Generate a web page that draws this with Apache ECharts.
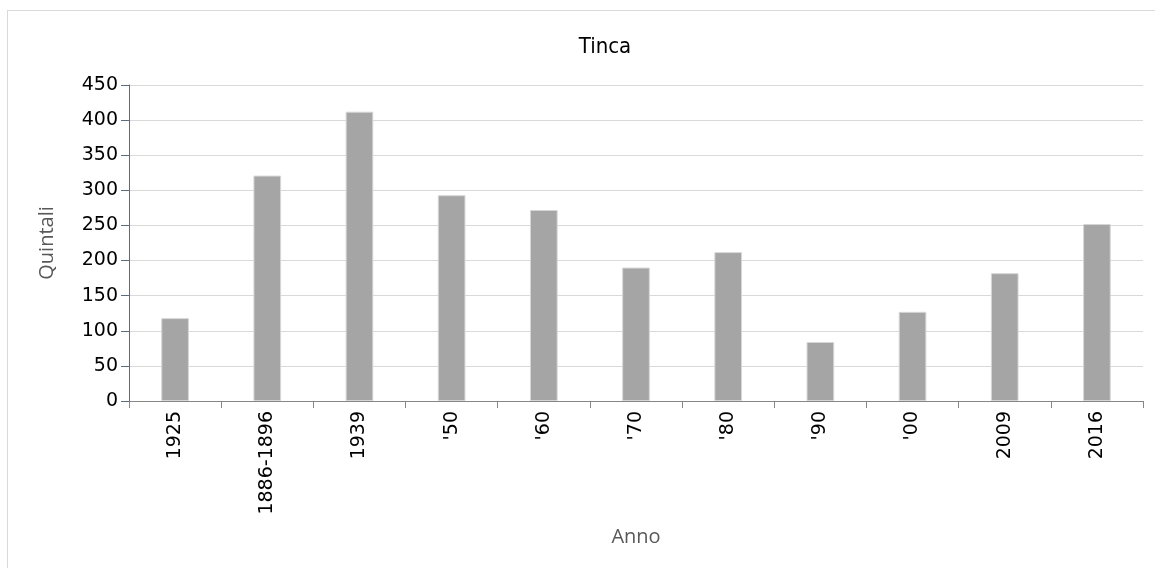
<!DOCTYPE html>
<html>
<head>
<meta charset="utf-8">
<script src="https://cdn.jsdelivr.net/npm/echarts@6/dist/echarts.min.js"></script>
<style>
  html, body { margin: 0; padding: 0; background: #fff; }
  #frame { position: absolute; left: 7px; top: 10px; width: 1160px; height: 570px; border: 1px solid #d9d9d9; box-sizing: border-box; }
  #chart { position: absolute; left: 0; top: 0; width: 1155px; height: 568px; }
</style>
</head>
<body>
<div id="frame"></div>
<div id="chart"></div>
<script>
// Catch of tench per period (quintals)
const categories = ['1925', '1886-1896', '1939', "'50", "'60", "'70", "'80", "'90", "'00", '2009', '2016'];
const catchValues = [118, 321, 412, 293, 272, 190, 212, 84, 127, 182, 252];
const yTicks = [0, 50, 100, 150, 200, 250, 300, 350, 400, 450];

const chart = echarts.init(document.getElementById('chart'), null, { renderer: 'canvas' });
chart.setOption({
  backgroundColor: 'transparent',
  animation: false,
  title: {
    text: 'Tinca',
    left: 600,
    textAlign: 'center',
    top: 31,
    textStyle: { fontFamily: 'DejaVu Sans Condensed', fontSize: 22, fontWeight: 'normal', color: '#000' }
  },
  grid: { left: 129, right: 12, top: 85, bottom: 167, containLabel: false },
  xAxis: {
    type: 'category',
    data: categories,
    name: 'Anno',
    nameLocation: 'middle',
    nameGap: 126,
    nameTextStyle: { fontFamily: 'Open Sans', fontSize: 20, color: '#595959' },
    axisLine: { lineStyle: { color: '#868686', width: 1 } },
    axisTick: { show: true, alignWithLabel: false, length: 7, lineStyle: { color: '#868686' } },
    axisLabel: {
      rotate: 90,
      interval: 0,
      margin: 10,
      fontFamily: 'DejaVu Sans',
      fontSize: 19,
      color: '#000'
    }
  },
  yAxis: {
    type: 'value',
    min: yTicks[0],
    max: yTicks[yTicks.length - 1],
    interval: 50,
    name: 'Quintali',
    nameLocation: 'middle',
    nameGap: 72,
    nameRotate: 90,
    nameTextStyle: { fontFamily: 'Open Sans', fontSize: 20, color: '#595959' },
    axisLine: { show: true, lineStyle: { color: '#5b6b84', width: 1 } },
    axisTick: { show: true, length: 8, lineStyle: { color: '#5b6b84' } },
    axisLabel: { margin: 11, fontFamily: 'DejaVu Sans', fontSize: 19, color: '#000' },
    splitLine: { show: true, lineStyle: { color: '#d9d9d9', width: 1 } }
  },
  series: [{
    type: 'bar',
    data: catchValues,
    barWidth: '30%',
    itemStyle: { color: '#a5a5a5', borderColor: '#d6d6d6', borderWidth: 1 }
  }]
});
</script>
</body>
</html>
